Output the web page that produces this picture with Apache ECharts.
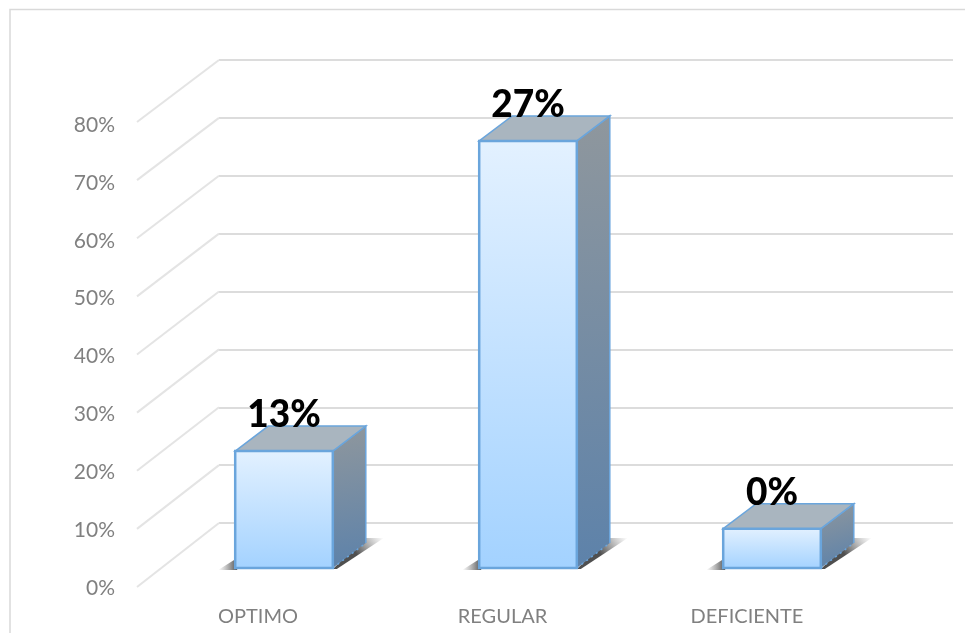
<!DOCTYPE html>
<html>
<head>
<meta charset="utf-8">
<style>html,body{margin:0;padding:0;background:#fff}#c{width:965px;height:633px}</style>
<script src="https://cdn.jsdelivr.net/npm/echarts@6/dist/echarts.min.js"></script>
</head>
<body>
<div id="c"></div>
<script>
const categories = ["OPTIMO", "REGULAR", "DEFICIENTE"];
const barHeights = [20.2, 73.8, 6.8];
const dataLabels = ["13%", "27%", "0%"];
const ticks = [0, 10, 20, 30, 40, 50, 60, 70, 80];
const labelShift = [26, 25.5, 25];

const wall = { dx: -82, dyTop: 62, dyBase: 64, max: 80 };
const depth = { dx: 33, dy: -25 };
const edge = "#6aa5dc";

const chart = echarts.init(document.getElementById("c"), null, { renderer: "canvas" });

function lin(x, y, x2, y2, a, b) {
  return { type: "linear", x, y, x2, y2, colorStops: [{ offset: 0, color: a }, { offset: 1, color: b }] };
}

function renderBar(params, api) {
  const i = api.value(0);
  const top = api.coord([i, api.value(1)]);
  const base = api.coord([i, 0]);
  const w = api.size([1, 0])[0] * 0.4;
  const l = top[0] - w / 2, r = top[0] + w / 2, t = top[1], b = base[1];
  const d = depth;
  return {
    type: "group",
    children: [
      { type: "polygon", shape: { points: [[l - 17, b + 2], [l + 2, b + 2], [l + 2, b - 10]] },
        style: { fill: lin(0, 0, 1, 0, "rgba(110,110,110,0)", "rgba(60,60,60,0.9)") } },
      { type: "polygon", shape: { points: [[r, b + 1], [r + d.dx, b + d.dy - 5], [r + d.dx + 18, b + d.dy - 5], [r + 4, b + 1]] },
        style: { fill: lin(1, 0, 0.5, 0.6, "rgba(130,130,130,0)", "rgba(70,70,70,0.95)") } },
      { type: "polygon", shape: { points: [[r, t], [r + d.dx, t + d.dy], [r + d.dx, b + d.dy], [r, b]] },
        style: { fill: lin(0, 0, 0.6, 1, "#8f979d", "#5d82aa") } },
      { type: "polyline", shape: { points: [[r, t], [r + d.dx, t + d.dy], [r + d.dx, b + d.dy]] },
        style: { stroke: edge, lineWidth: 1.5, fill: null } },
      { type: "line", shape: { x1: r, y1: b, x2: r + d.dx, y2: b + d.dy },
        style: { stroke: edge, lineWidth: 1.5, lineDash: [2, 4] } },
      { type: "polygon", shape: { points: [[l, t], [l + d.dx, t + d.dy], [r + d.dx, t + d.dy], [r, t]] },
        style: { fill: "#a9b5bf", stroke: edge, lineWidth: 1.5 } },
      { type: "rect", shape: { x: l, y: t, width: w, height: b - t },
        style: { fill: lin(0, 0, 0, 1, "#e3f1ff", "#a3d2ff"), stroke: edge, lineWidth: 2.5 } },
      { type: "text", x: top[0], y: t - 36,
        style: { text: dataLabels[i], fill: "#000", font: "900 37px Lato", align: "center", verticalAlign: "middle" } }
    ]
  };
}

function renderWall(params, api) {
  const v = api.value(0);
  const p = api.coord([0, v]);
  const dy = wall.dyBase + (wall.dyTop - wall.dyBase) * v / wall.max;
  return { type: "line", shape: { x1: p[0], y1: p[1], x2: p[0] + wall.dx, y2: p[1] + dy },
    style: { stroke: "#e4e4e4", lineWidth: 2 } };
}

chart.setOption({
  animation: false,
  backgroundColor: "#fff",
  graphic: [{ type: "polyline", silent: true, shape: { points: [[10, 633], [10, 9.5], [965, 9.5]] },
    style: { stroke: "#d9d9d9", lineWidth: 1.5, fill: null } }],
  grid: [
    { left: 219, top: 60, width: 734, height: 463 },
    { left: 137, top: 125, width: 10, height: 463 },
    { left: 162, top: 105, width: 732, height: 463 }
  ],
  xAxis: [
    { gridIndex: 0, type: "value", min: 0, max: 1, show: false },
    { gridIndex: 1, type: "value", min: 0, max: 1, show: false },
    { gridIndex: 2, type: "category", data: categories,
      axisLine: { show: false }, axisTick: { show: false },
      axisLabel: { margin: 39, color: "#808080", fontFamily: "Lato", fontSize: 20, interval: 0,
        formatter: (v, i) => `{s${i}|${v}}`,
        rich: Object.fromEntries(labelShift.map((s, i) => ["s" + i, { padding: [0, 2 * s, 0, 0], color: "#808080", fontFamily: "Lato", fontSize: 20 }])) } }
  ],
  yAxis: [
    { gridIndex: 0, type: "value", min: 0, max: 80, interval: 10, axisLabel: { show: false },
      axisLine: { show: false }, axisTick: { show: false },
      splitLine: { show: true, lineStyle: { color: "#dcdcdc", width: 2 } } },
    { gridIndex: 1, type: "value", min: 0, max: 80, interval: 10, splitLine: { show: false },
      axisLine: { show: false }, axisTick: { show: false },
      axisLabel: { formatter: "{value}%", color: "#808080", fontFamily: "Lato", fontSize: 21, margin: 22 } },
    { gridIndex: 2, type: "value", min: 0, max: 80, interval: 10, show: false }
  ],
  series: [
    { type: "custom", xAxisIndex: 0, yAxisIndex: 0, data: ticks.map(t => [t]), renderItem: renderWall, silent: true, clip: false, encode: { y: 0 } },
    { type: "custom", xAxisIndex: 2, yAxisIndex: 2, data: barHeights.map((v, i) => [i, v]), renderItem: renderBar, silent: true, clip: false, encode: { x: 0, y: 1 } }
  ]
});
</script>
</body>
</html>
